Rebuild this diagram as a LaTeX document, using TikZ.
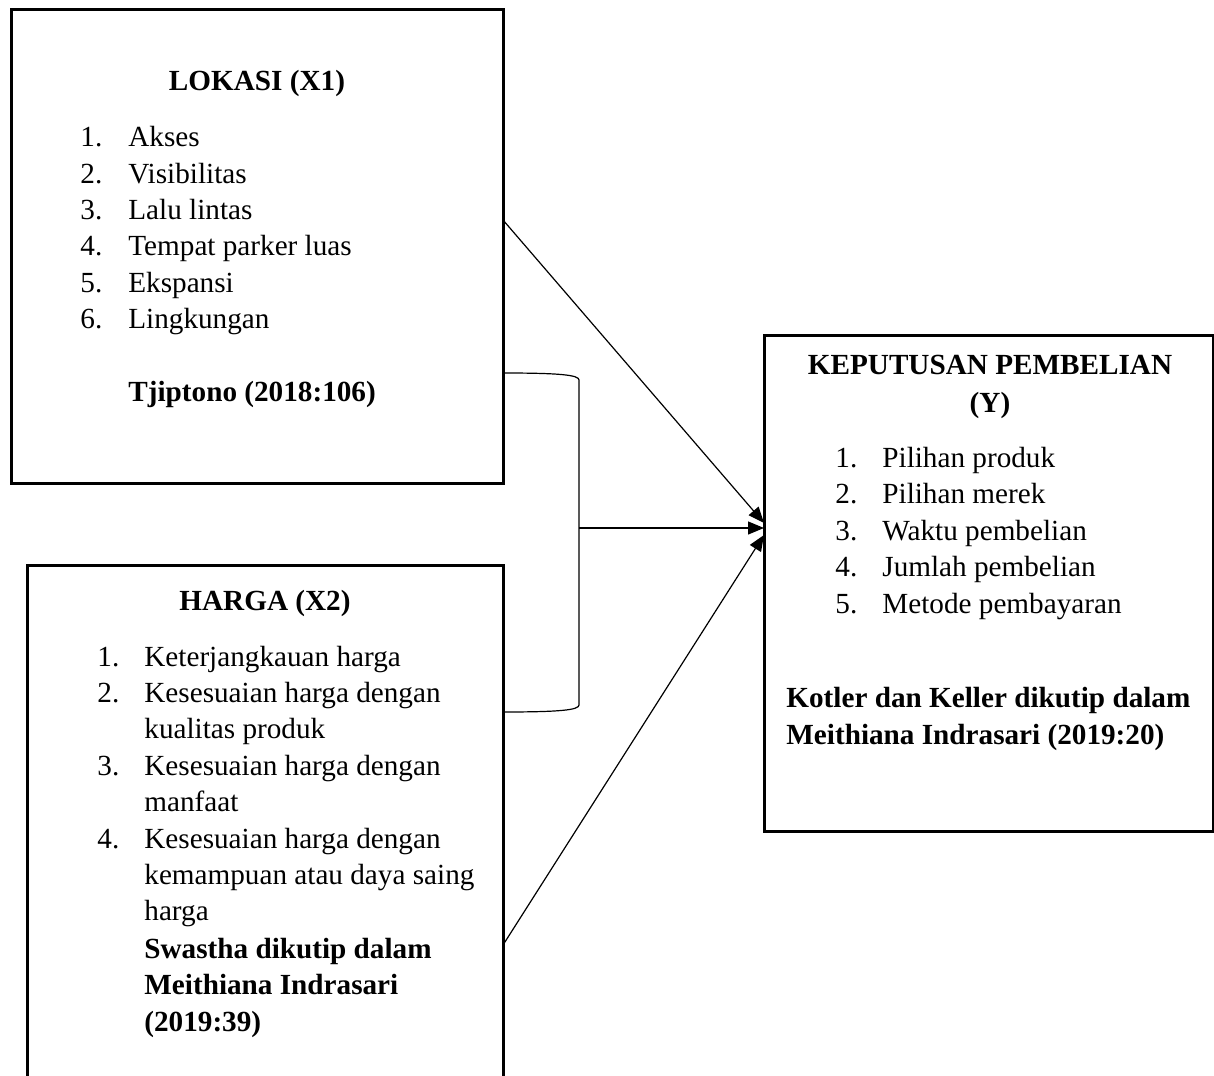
\documentclass[tikz,border=0pt]{standalone}
\usepackage{fontspec}
\setmainfont{Liberation Serif}
\usetikzlibrary{arrows.meta}
\tikzset{
  varbox/.style={draw,line width=1.5pt,rectangle,inner sep=0pt,outer sep=0pt,anchor=north west},
  txt/.style={inner sep=0pt,anchor=base west,font=\fontsize{14.6}{18.2}\selectfont},
  ttl/.style={inner sep=0pt,anchor=base,font=\fontsize{14.6}{18.2}\selectfont\bfseries},
  link/.style={line width=0.6pt}
}

\begin{document}
\begin{tikzpicture}[x=0.5pt,y=-0.5pt,>={Triangle[length=8pt,width=6.5pt]}]
  \clip (0,0) rectangle (1214,1075);
  % boxes
  \node[varbox,minimum width=246pt,minimum height=236.5pt] (lokasi) at (11,10) {};
  \node[varbox,minimum width=238pt,minimum height=265pt] (harga) at (27,565) {};
  \node[varbox,minimum width=224.5pt,minimum height=248pt] (keputusan) at (764,335) {};

  % lokasi (X1)
  \node[ttl] (lokasiTitle) at (257,90.7) {LOKASI (X1)};
  \node[txt] (lokasiList) at (80,146.7) {\begin{tabular}[t]{@{}p{24pt}@{}l@{}}
    1. & Akses\\ 2. & Visibilitas\\ 3. & Lalu lintas\\
    4. & Tempat parker luas\\ 5. & Ekspansi\\ 6. & Lingkungan
  \end{tabular}};
  \node[txt,font=\fontsize{14.6}{18.2}\selectfont\bfseries] (lokasiSrc) at (128,401.7) {Tjiptono (2018:106)};

  % harga (X2)
  \node[ttl] (hargaTitle) at (265,610) {HARGA (X2)};
  \node[txt] (hargaList) at (97,666) {\begin{tabular}[t]{@{}p{23.5pt}@{}l@{}}
    1. & Keterjangkauan harga\\ 2. & Kesesuaian harga dengan\\ & kualitas produk\\
    3. & Kesesuaian harga dengan\\ & manfaat\\
    4. & Kesesuaian harga dengan\\ & kemampuan atau daya saing\\ & harga
  \end{tabular}};
  \node[txt,font=\fontsize{14.6}{18.2}\selectfont\bfseries] (hargaSrc) at (144,958.5) {\begin{tabular}[t]{@{}l@{}}
    Swastha dikutip dalam\\ Meithiana Indrasari\\ (2019:39)
  \end{tabular}};

  % keputusan pembelian (Y)
  \node[ttl] (keputusanTitle) at (990,374) {\begin{tabular}[t]{@{}c@{}}
    KEPUTUSAN PEMBELIAN\\[0.8pt] (Y)
  \end{tabular}};
  \node[txt] (keputusanList) at (835,467.5) {\begin{tabular}[t]{@{}p{23.5pt}@{}l@{}}
    1. & Pilihan produk\\ 2. & Pilihan merek\\ 3. & Waktu pembelian\\
    4. & Jumlah pembelian\\ 5. & Metode pembayaran
  \end{tabular}};
  \node[txt,font=\fontsize{14.6}{18.2}\selectfont\bfseries] (keputusanSrc) at (786,707.5) {\begin{tabular}[t]{@{}l@{}}
    Kotler dan Keller dikutip dalam\\[0.5pt] Meithiana Indrasari (2019:20)
  \end{tabular}};

  % connectors
  \coordinate (lokasiOut) at (503,220);
  \coordinate (hargaOut) at (503,945);
  \coordinate (braceTop) at (503,373);
  \coordinate (braceBot) at (503,712);
  \coordinate (braceMid) at (579,528);
  \coordinate (keputusanIn1) at (764,523);
  \coordinate (keputusanIn2) at (764,528);
  \coordinate (keputusanIn3) at (764,535);

  \draw[link] (braceTop) .. controls (560,373) and (579,375) .. (579,380)
    -- (579,705) .. controls (579,710) and (560,712) .. (braceBot);
  \draw[link,->] (lokasiOut) -- (keputusanIn1);
  \draw[link,->] (braceMid) -- (keputusanIn2);
  \draw[link,->] (hargaOut) -- (keputusanIn3);
\end{tikzpicture}
\end{document}
